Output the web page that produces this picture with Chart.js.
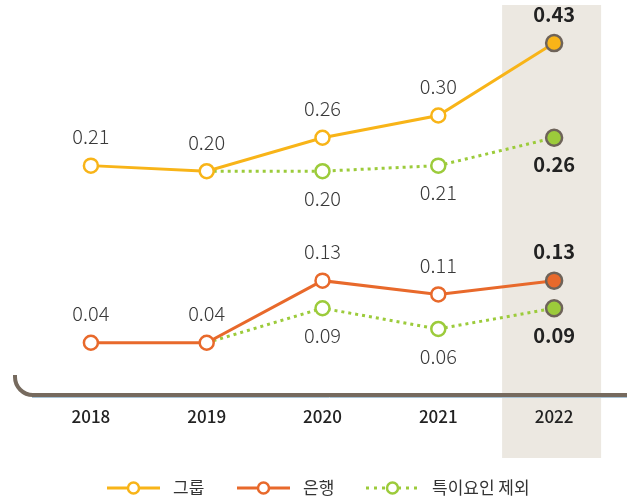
<!DOCTYPE html>
<html>
<head>
<meta charset="utf-8">
<script src="https://cdn.jsdelivr.net/npm/chart.js@4"></script>
<style>
  html, body { margin: 0; padding: 0; background: #fff; }
  #wrap { width: 627px; height: 501px; position: relative; }
</style>
</head>
<body>
<div id="wrap"><canvas id="chart" width="627" height="501"></canvas></div>
<script>
// data
var years = ['2018', '2019', '2020', '2021', '2022'];
var groupVals = [0.21, 0.20, 0.26, 0.30, 0.43];
var bankVals = [0.04, 0.04, 0.13, 0.11, 0.13];
var groupExclVals = [null, 0.20, 0.20, 0.21, 0.26];
var bankExclVals = [null, 0.04, 0.09, 0.06, 0.09];
var legendNames = ['그룹', '은행', '특이요인 제외'];

var YELLOW = '#F8B418';
var ORANGE = '#E8692B';
var GREEN = '#9CCB3B';
var RING = '#6E6359';
var FONT = "'Noto Sans CJK KR', 'Noto Sans', sans-serif";

// white rings, last year filled with grey outline
function pointStyle(vals, color) {
    var last = vals.length - 1;
    return {
        bg: vals.map(function(v, i) { return i === last ? color : '#fff'; }),
        border: vals.map(function(v, i) { return i === last ? RING : color; }),
        radius: vals.map(function(v, i) { return i === last ? 8 : 7; })
    };
}

function exclStyle(vals, color) {
    var s = pointStyle(vals, color);
    s.radius[1] = 0; // shares the marker of the main series
    return s;
}

var gS = pointStyle(groupVals, YELLOW);
var bS = pointStyle(bankVals, ORANGE);
var geS = exclStyle(groupExclVals, GREEN);
var beS = exclStyle(bankExclVals, GREEN);

function lineSet(label, data, color, st, axis, dashed, place) {
    return {
        label: label,
        data: data,
        yAxisID: axis,
        borderColor: color,
        borderWidth: 3,
        borderDash: dashed ? [3, 4] : [],
        pointBackgroundColor: st.bg,
        pointBorderColor: st.border,
        pointBorderWidth: 2.5,
        pointRadius: st.radius,
        pointHoverRadius: st.radius,
        tension: 0,
        clip: false,
        labelPlace: place
    };
}

// shaded column behind the latest year + rounded base line
var decor = {
    id: 'decor',
    beforeDraw: function(chart) {
        var ctx = chart.ctx, x = chart.scales.x, area = chart.chartArea;
        var cx = x.getPixelForValue(years.length - 1);
        ctx.save();
        ctx.fillStyle = '#ECE8E1';
        ctx.fillRect(cx - 52, 5, 99, 453);

        var yb = Math.round(area.bottom);
        ctx.strokeStyle = '#A9C3D6';
        ctx.lineWidth = 1;
        ctx.beginPath();
        ctx.moveTo(32, yb + 2.5);
        ctx.lineTo(627, yb + 2.5);
        ctx.stroke();

        ctx.strokeStyle = '#766A5E';
        ctx.lineWidth = 4;
        ctx.beginPath();
        ctx.moveTo(15, yb - 20);
        ctx.arcTo(15, yb, 35, yb, 18);
        ctx.lineTo(627, yb);
        ctx.stroke();
        ctx.restore();
    },
    afterDatasetsDraw: function(chart) {
        var ctx = chart.ctx;
        ctx.save();
        ctx.textAlign = 'center';
        ctx.textBaseline = 'middle';
        chart.data.datasets.forEach(function(ds, di) {
            var meta = chart.getDatasetMeta(di);
            meta.data.forEach(function(pt, i) {
                var v = ds.data[i];
                if (v === null) return;
                if (ds.labelPlace === 'below' && i === 1) return;
                var last = i === ds.data.length - 1;
                ctx.font = (last ? 'bold ' : '300 ') + '20px ' + FONT;
                ctx.fillStyle = last ? '#222' : '#3a3a3a';
                var y = ds.labelPlace === 'above' ? pt.y - 29 : pt.y + 27;
                ctx.fillText(v.toFixed(2), pt.x, y);
            });
        });

        // legend
        var items = [
            { name: legendNames[0], color: YELLOW, dash: [], x: 107 },
            { name: legendNames[1], color: ORANGE, dash: [], x: 237 },
            { name: legendNames[2], color: GREEN, dash: [3, 5], x: 366 }
        ];
        var ly = 488;
        items.forEach(function(it) {
            ctx.strokeStyle = it.color;
            ctx.lineWidth = 3;
            ctx.setLineDash(it.dash);
            ctx.beginPath();
            ctx.moveTo(it.x, ly);
            ctx.lineTo(it.x + 53, ly);
            ctx.stroke();
            ctx.setLineDash([]);
            ctx.fillStyle = '#fff';
            ctx.lineWidth = 2.5;
            ctx.beginPath();
            ctx.arc(it.x + 26.5, ly, 5.5, 0, Math.PI * 2);
            ctx.fill();
            ctx.stroke();
            ctx.fillStyle = '#333';
            ctx.font = '17px ' + FONT;
            ctx.textAlign = 'left';
            ctx.fillText(it.name, it.x + 66, ly);
        });
        ctx.restore();
    }
};

new Chart(document.getElementById('chart').getContext('2d'), {
    type: 'line',
    data: {
        labels: years,
        datasets: [
            lineSet('그룹', groupVals, YELLOW, gS, 'yTop', false, 'above'),
            lineSet('은행', bankVals, ORANGE, bS, 'yBottom', false, 'above'),
            lineSet('그룹 특이요인 제외', groupExclVals, GREEN, geS, 'yTop', true, 'below'),
            lineSet('은행 특이요인 제외', bankExclVals, GREEN, beS, 'yBottom', true, 'below')
        ]
    },
    options: {
        responsive: false,
        animation: false,
        events: [],
        layout: { padding: { left: 33, right: 15, top: 0, bottom: 63.6 } },
        plugins: {
            legend: { display: false },
            tooltip: { enabled: false },
            title: { display: false }
        },
        scales: {
            x: {
                offset: true,
                grid: { display: false, drawTicks: false },
                border: { display: false },
                ticks: {
                    padding: 11,
                    color: '#222',
                    font: { size: 17, weight: '500', family: FONT }
                }
            },
            yTop: {
                display: false,
                min: -0.2018,
                max: 0.4885
            },
            yBottom: {
                display: false,
                min: -0.0357,
                max: 0.5214
            }
        }
    },
    plugins: [decor]
});
</script>
</body>
</html>
